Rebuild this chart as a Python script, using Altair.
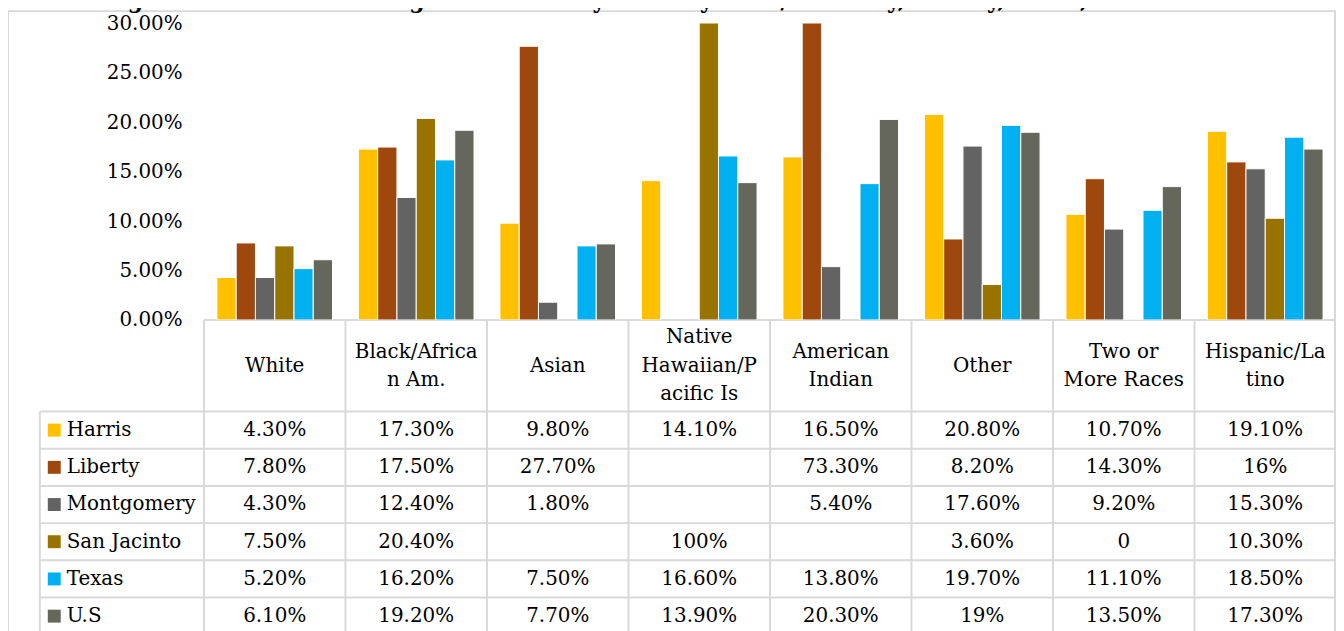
import altair as alt
import pandas as pd

# ---------------- data ----------------
title_text = "Figure 13: Families Living Below Poverty Level by Race/Ethnicity, County, Texas, and the U.S."

races = ["White", "Black/African Am.", "Asian", "Native Hawaiian/Pacific Is",
         "American Indian", "Other", "Two or More Races", "Hispanic/Latino"]
race_headers = [["White"], ["Black/Africa", "n Am."], ["Asian"], ["Native", "Hawaiian/P", "acific Is"],
                ["American", "Indian"], ["Other"], ["Two or", "More Races"], ["Hispanic/La", "tino"]]

series = ["Harris", "Liberty", "Montgomery", "San Jacinto", "Texas", "U.S"]
colors = ["#FFC000", "#9E480E", "#636363", "#997300", "#00B0F0", "#65665C"]

harris = [0.043, 0.173, 0.098, 0.141, 0.165, 0.208, 0.107, 0.191]
liberty = [0.078, 0.175, 0.277, None, 0.733, 0.082, 0.143, 0.16]
montgomery = [0.043, 0.124, 0.018, None, 0.054, 0.176, 0.092, 0.153]
san_jacinto = [0.075, 0.204, None, 1.0, None, 0.036, 0.0, 0.103]
texas = [0.052, 0.162, 0.075, 0.166, 0.138, 0.197, 0.111, 0.185]
us = [0.061, 0.192, 0.077, 0.139, 0.203, 0.19, 0.135, 0.173]

y_ticks = [0, 0.05, 0.10, 0.15, 0.20, 0.25, 0.30]

values_by_series = [harris, liberty, montgomery, san_jacinto, texas, us]


def fmt(v):
    if v is None:
        return ""
    if v == 0:
        return "0"
    pct = round(v * 100, 4)
    if float(pct).is_integer():
        return f"{int(pct)}%"
    return f"{pct:.2f}%"


rows = []
for si, (s, vals) in enumerate(zip(series, values_by_series)):
    for r, v in zip(races, vals):
        rows.append({"race": r, "series": s, "value": v, "label": fmt(v), "rowc": si + 0.5})
df = pd.DataFrame(rows)

names_df = pd.DataFrame({"series": series, "rowc": [i + 0.5 for i in range(len(series))]})
hlines_df = pd.DataFrame({"rowc": list(range(len(series) + 1))})
races_df = pd.DataFrame({"race": races})

hdr_rows = []
for r, lines in zip(races, race_headers):
    n = len(lines)
    for k, line in enumerate(lines):
        hdr_rows.append({"race": r, "line": line, "hl": k - (n - 1) / 2})
header_df = pd.DataFrame(hdr_rows)
one = pd.DataFrame({"k": [0]})

# ---------------- layout / style ----------------
W = 1138
H = 298
HEADER_H = 92
ROW_H = 37.4
LINE_H = 28.5
TABLE_TOP = H
BODY_TOP = H + HEADER_H
BOTTOM = BODY_TOP + len(series) * ROW_H + 30
LEFT_COL = -165
GRID = "#D9D9D9"
FONT = "DejaVu Serif"
FS = 20

x_bar = alt.X("race:N", sort=races, axis=None,
              scale=alt.Scale(paddingInner=0.183, paddingOuter=0.0915))
x_tab = alt.X("race:N", sort=races, axis=None,
              scale=alt.Scale(paddingInner=0, paddingOuter=0))
x_tab_edge = alt.X("race:N", sort=races, axis=None, bandPosition=0,
                   scale=alt.Scale(paddingInner=0, paddingOuter=0))
y_tab = alt.Y("rowc:Q", axis=None,
              scale=alt.Scale(domain=[0, len(series)],
                              range=[BODY_TOP, BODY_TOP + len(series) * ROW_H],
                              zero=False, nice=False))
hc = TABLE_TOP + HEADER_H / 2
y_hdr = alt.Y("hl:Q", axis=None,
              scale=alt.Scale(domain=[-1, 1], range=[hc - LINE_H, hc + LINE_H],
                              zero=False, nice=False))
color = alt.Color("series:N", sort=series,
                  scale=alt.Scale(domain=series, range=colors), legend=None)

border = alt.Chart(one).mark_rect(filled=False, stroke=GRID, strokeWidth=2).encode(
    x=alt.value(-197), x2=alt.value(1137), y=alt.value(-12.5), y2=alt.value(BOTTOM + 50)
)

title = alt.Chart(one).mark_text(
    text=title_text, font=FONT, fontSize=22, fontWeight="bold",
    align="center", baseline="alphabetic", color="black"
).encode(x=alt.value(472), y=alt.value(-15.5))

header_line = alt.Chart(one).mark_rule(color=GRID, strokeWidth=2).encode(
    x=alt.value(0), x2=alt.value(W + 5), y=alt.value(TABLE_TOP)
)

hlines = alt.Chart(hlines_df).mark_rule(color=GRID, strokeWidth=2).encode(
    x=alt.value(LEFT_COL), x2=alt.value(W + 5), y=y_tab
)

vlines = alt.Chart(races_df).mark_rule(color=GRID, strokeWidth=2).encode(
    x=x_tab_edge, y=alt.value(TABLE_TOP), y2=alt.value(BOTTOM)
)

left_line = alt.Chart(one).mark_rule(color=GRID, strokeWidth=2).encode(
    x=alt.value(LEFT_COL), y=alt.value(BODY_TOP), y2=alt.value(BOTTOM)
)

bars = alt.Chart(df).transform_filter("isValid(datum.value)").mark_bar(
    clip=True, stroke="white", strokeWidth=1
).encode(
    x=x_bar,
    xOffset=alt.XOffset("series:N", sort=series,
                        scale=alt.Scale(paddingInner=0, paddingOuter=0)),
    y=alt.Y("value:Q", scale=alt.Scale(domain=[0, 0.3], nice=False, zero=True),
            axis=alt.Axis(values=y_ticks, format=".2%", title=None, domain=False,
                          ticks=False, tickSize=0, grid=False, labelPadding=22,
                          labelFontSize=FS, labelColor="black", labelFont=FONT)),
    color=color,
)

header_text = alt.Chart(header_df).mark_text(
    font=FONT, fontSize=FS, align="center", baseline="middle", color="black"
).encode(x=x_tab, y=y_hdr, text="line:N")

cells = alt.Chart(df).mark_text(
    font=FONT, fontSize=FS, align="center", baseline="middle", color="black"
).encode(x=x_tab, y=y_tab, text="label:N")

keys = alt.Chart(names_df).mark_square(size=169, opacity=1, filled=True).encode(
    x=alt.value(-150.5), y=y_tab, color=color
)

names = alt.Chart(names_df).mark_text(
    font=FONT, fontSize=FS, align="left", baseline="middle", color="black"
).encode(x=alt.value(-138), y=y_tab, text="series:N")

chart = alt.layer(
    border, title, header_line, hlines, vlines, left_line,
    bars, header_text, cells, keys, names
).resolve_scale(
    x="independent", y="independent"
).properties(
    width=W, height=H,
    padding={"left": 197, "top": 14, "right": 0, "bottom": 311},
    autosize=alt.AutoSizeParams(type="none"),
).configure(font=FONT).configure_view(stroke=None)

chart.save("out.html", embed_options={"renderer": "svg", "actions": False})
